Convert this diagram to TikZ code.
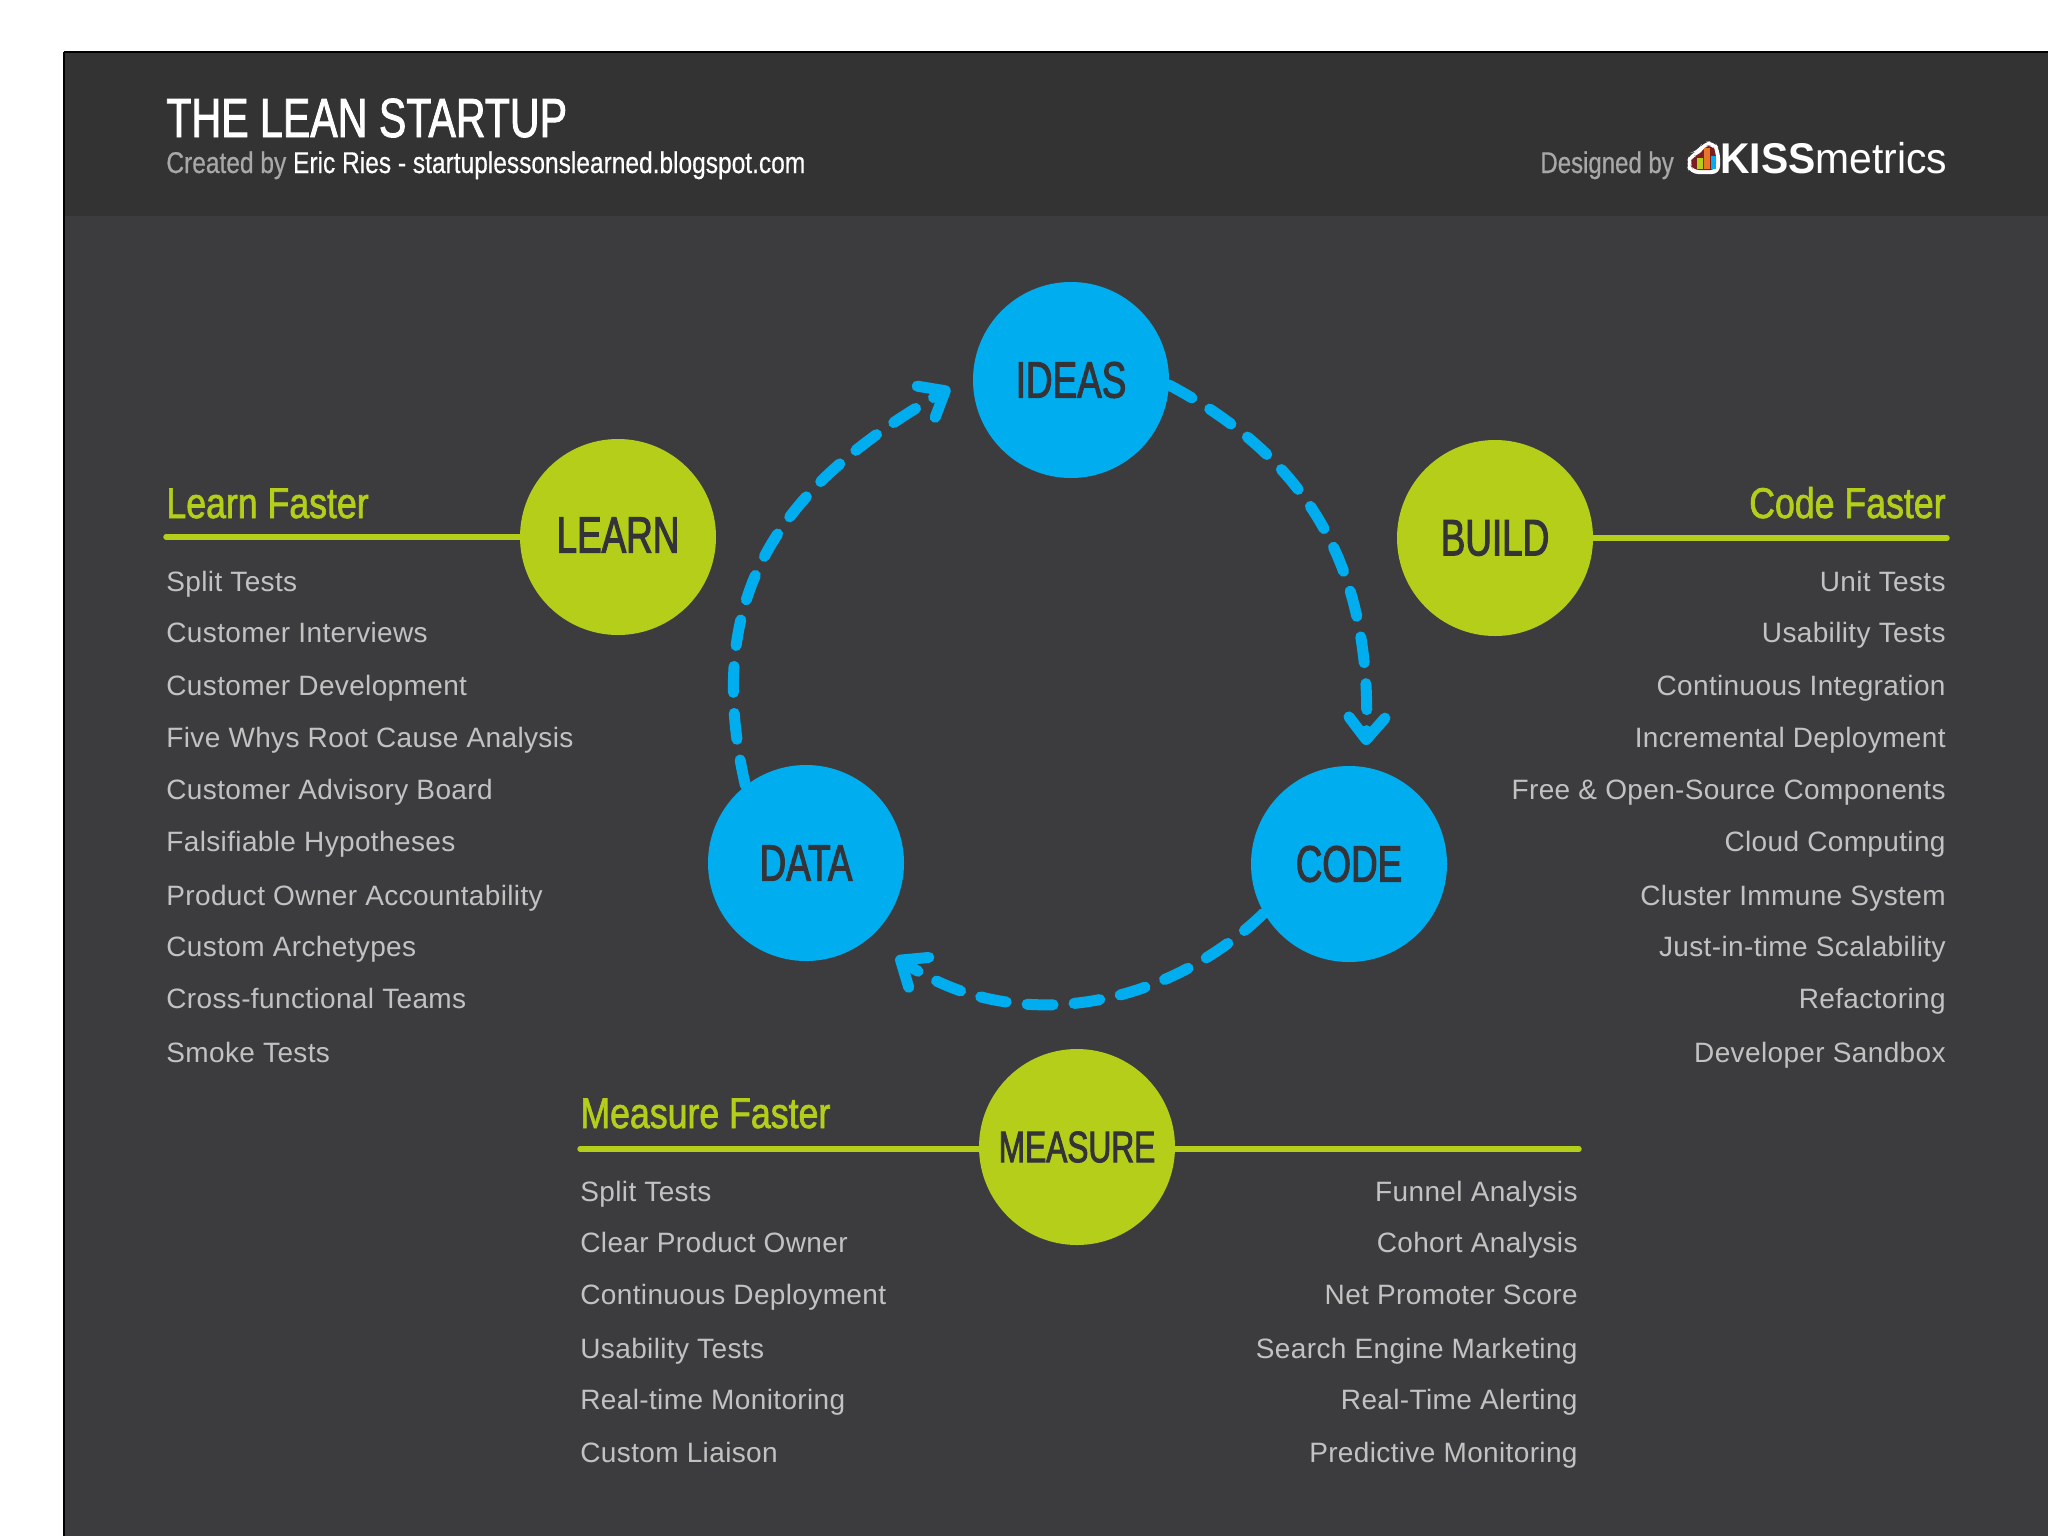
\documentclass[tikz,border=0pt]{standalone}
\usepackage{fontspec}
\usetikzlibrary{arrows.meta}
\setmainfont{Liberation Sans}
\newfontfamily\listf[LetterSpace=1.3]{Liberation Sans}
\newfontfamily\titlef[FakeStretch=0.745,FakeBold=1.5]{Liberation Sans}
\newfontfamily\subf[FakeStretch=0.817,FakeBold=0.5]{Liberation Sans}
\newfontfamily\desf[FakeStretch=0.80,FakeBold=0.5]{Liberation Sans}
\newfontfamily\headf[FakeStretch=0.83,FakeBold=1.5]{Liberation Sans}
\newfontfamily\circf[FakeStretch=0.72,FakeBold=2]{Liberation Sans}
\newfontfamily\kissf[FakeStretch=0.95]{Liberation Sans}
\definecolor{hdrbg}{HTML}{333334}
\definecolor{panelbg}{HTML}{3C3C3E}
\definecolor{cyc}{HTML}{00AEEF}
\definecolor{lime}{HTML}{B4CE19}
\definecolor{greytxt}{HTML}{C2C2C2}
\definecolor{dimtxt}{HTML}{A8A8A8}
\definecolor{darktxt}{HTML}{333338}
\definecolor{logored}{HTML}{7A1E22}
\definecolor{logoorange}{HTML}{E8762A}
\tikzset{
  x=0.5pt,y=-0.5pt,
  blob/.style={circle,minimum size=98pt,inner sep=0pt,text=darktxt,font=\circf\fontsize{25.6}{28}\selectfont},
  bluec/.style={blob,fill=cyc},
  greenc/.style={blob,fill=lime},
  itemL/.style={anchor=base west,inner sep=0pt,text=greytxt,font=\listf\fontsize{14}{16}\selectfont},
  itemR/.style={anchor=base east,inner sep=0pt,text=greytxt,font=\listf\fontsize{14}{16}\selectfont},
  headL/.style={anchor=base west,inner sep=0pt,text=lime,font=\headf\fontsize{21.5}{24}\selectfont},
  headR/.style={anchor=base east,inner sep=0pt,text=lime,font=\headf\fontsize{21.5}{24}\selectfont},
  rule/.style={draw=lime,line width=2.7pt,line cap=round},
  flow/.style={draw=cyc,line width=5.5pt,line cap=round,dash pattern=on 13pt off 10.5pt,
    -{Straight Barb[length=11pt,width=18pt,line width=5.5pt,round]}},
}
\begin{document}
\begin{tikzpicture}
\useasboundingbox (0,0) rectangle (2048,1536);
\fill[white] (0,0) rectangle (2048,1536);
% panel
\fill[panelbg] (64,51) rectangle (2048,1536);
\fill[hdrbg] (64,51) rectangle (2048,216);
\draw[black,line width=1.4pt] (2048,52) -- (64,52);
\draw[black,line width=0.9pt] (64,52) -- (64,1536);
% header
\node[anchor=base west,inner sep=0pt,text=white,font=\titlef\fontsize{27.6}{30}\selectfont] (title) at (166,137) {THE LEAN STARTUP};
\node[anchor=base west,inner sep=0pt,text=white,font=\subf\fontsize{15}{18}\selectfont] (subtitle) at (166,173) {\textcolor{dimtxt}{Created by} Eric Ries - startuplessonslearned.blogspot.com};
\node[anchor=base west,inner sep=0pt,text=dimtxt,font=\desf\fontsize{15}{18}\selectfont] (designed) at (1540,173) {Designed by};
% logo
\fill[white,rounded corners=4pt] (1690,174) -- (1686,164) -- (1690,153) -- (1698,151) -- (1703,142) -- (1714,141) -- (1720,150) -- (1720,174) -- cycle;
\fill[logored,rounded corners=3pt] (1693,170) -- (1690,164) -- (1693,156) -- (1700,155) -- (1705,146) -- (1712,145) -- (1716,152) -- (1716,170) -- cycle;
\fill[lime] (1697,158) rectangle (1703,169);
\fill[logoorange] (1704,148) rectangle (1710,169);
\fill[cyc] (1711,156) rectangle (1716,169);
\node[anchor=base west,inner sep=0pt,text=white,font=\kissf\fontsize{21.5}{24}\selectfont] (kiss) at (1720,173) {\textbf{KISS}metrics};
% circles
\node[bluec] (ideas) at (1071,380) {IDEAS};
\node[bluec] (code) at (1349,864) {CODE};
\node[bluec] (data) at (806,863) {DATA};
\node[greenc] (learn) at (618,537) {\raisebox{2pt}{LEARN}};
\node[greenc] (build) at (1495,538) {BUILD};
\node[greenc,font=\circf\fontsize{22}{24}\selectfont] (measure) at (1077,1147) {MEASURE};
% cycle
\coordinate (tocode) at (1366,745);
\coordinate (todata) at (896,957);
\coordinate (toideas) at (950,388);
\draw[flow] (ideas.-3) to[out=-28,in=88,looseness=1.04] (tocode);
\draw[flow] (code.210) to[out=-136,in=-34,looseness=0.97] (todata);
\draw[flow] (data.128) to[out=103,in=210,looseness=1.12] (toideas);
% rules
\coordinate (lrule) at (166,537);
\coordinate (rrule) at (1947,538);
\coordinate (mrulel) at (580,1149);
\coordinate (mruler) at (1579,1149);
\draw[rule] (lrule) -- (learn.west |- lrule);
\draw[rule] (rrule) -- (build.east |- rrule);
\draw[rule] (mrulel) -- (measure.west |- mrulel);
\draw[rule] (mruler) -- (measure.east |- mruler);
% headings
\node[headL] (hl) at (166,518) {Learn Faster};
\node[headR] (hc) at (1946,518) {Code Faster};
\node[headL] (hm) at (580,1128) {Measure Faster};
% lists
\foreach \t/\y [count=\i] in {Split Tests/591,Customer Interviews/642,Customer Development/695,Five Whys Root Cause Analysis/747,Customer Advisory Board/799,Falsifiable Hypotheses/851,Product Owner Accountability/905,Custom Archetypes/956,Cross-functional Teams/1008,Smoke Tests/1062}
  \node[itemL] (ll\i) at (166,\y) {\t};
\foreach \t/\y [count=\i] in {Unit Tests/591,Usability Tests/642,Continuous Integration/695,Incremental Deployment/747,Free \& Open-Source Components/799,Cloud Computing/851,Cluster Immune System/905,Just-in-time Scalability/956,Refactoring/1008,Developer Sandbox/1062}
  \node[itemR] (rl\i) at (1946,\y) {\t};
\foreach \t/\y [count=\i] in {Split Tests/1201,Clear Product Owner/1252,Continuous Deployment/1304,Usability Tests/1358,Real-time Monitoring/1409,Custom Liaison/1462}
  \node[itemL] (ml\i) at (580,\y) {\t};
\foreach \t/\y [count=\i] in {Funnel Analysis/1201,Cohort Analysis/1252,Net Promoter Score/1304,Search Engine Marketing/1358,Real-Time Alerting/1409,Predictive Monitoring/1462}
  \node[itemR] (mr\i) at (1578,\y) {\t};
\end{tikzpicture}
\end{document}
